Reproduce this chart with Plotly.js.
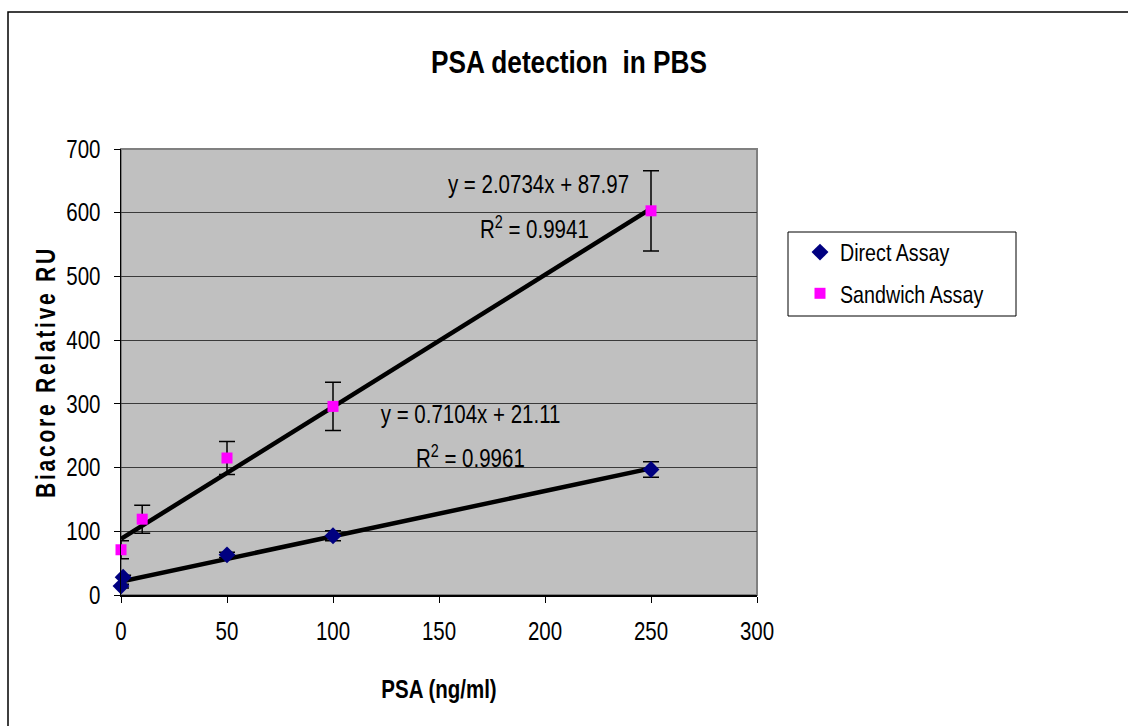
<!DOCTYPE html>
<html>
<head>
<meta charset="utf-8">
<script src="https://cdn.plot.ly/plotly-3.0.1.min.js"></script>
<style>
  html, body { margin: 0; padding: 0; background: #ffffff; }
  #chart { width: 1128px; height: 726px; }
</style>
</head>
<body>
<div id="chart"></div>
<script>
// PSA concentrations (ng/ml) and Biacore responses (RU)
const directX = [0, 1, 50, 100, 250];
const directY = [14, 28, 63, 93, 197];
const directErr = [3, 3, 4, 8, 12];

const sandwichX = [0, 10, 50, 100, 250];
const sandwichY = [71, 119, 215, 296, 603];
const sandwichErr = [14, 22, 26, 38, 63];

// Linear fits: [slope, intercept, R²]
const directFit = [0.7104, 21.11, 0.9961];
const sandwichFit = [2.0734, 87.97, 0.9941];
const fitRange = [0, 250];

const xTicks = [0, 50, 100, 150, 200, 250, 300];
const yTicks = [0, 100, 200, 300, 400, 500, 600, 700];

const SANS = '"Liberation Sans", Arial, sans-serif';
const NARROW_SCALE = 0.82;   // horizontal squeeze for a condensed Arial look

function fitLine(fit) {
  return {
    x: fitRange,
    y: fitRange.map(v => fit[0] * v + fit[1]),
    type: 'scatter', mode: 'lines',
    line: { color: '#000000', width: 4.5 },
    showlegend: false, hoverinfo: 'skip', cliponaxis: false
  };
}

const traces = [
  fitLine(directFit),
  fitLine(sandwichFit),
  {
    x: directX, y: directY, name: 'Direct Assay',
    type: 'scatter', mode: 'markers', legendgroup: 'a', cliponaxis: false,
    marker: { symbol: 'diamond', color: '#000080', size: 13 },
    error_y: { type: 'data', array: directErr, visible: true, color: '#000000', thickness: 1.5, width: 8 }
  },
  {
    x: sandwichX, y: sandwichY, name: 'Sandwich Assay',
    type: 'scatter', mode: 'markers', legendgroup: 'b', cliponaxis: false,
    marker: { symbol: 'square', color: '#FF00FF', size: 11 },
    error_y: { type: 'data', array: sandwichErr, visible: true, color: '#000000', thickness: 1.5, width: 8 }
  }
];

function eqText(fit) {
  return 'y = ' + fit[0].toFixed(4) + 'x + ' + fit[1].toFixed(2);
}
function r2Text(fit) {
  return 'R<sup>2</sup> = ' + fit[2].toFixed(4);
}

const textFont = { family: SANS, size: 25, color: '#000000' };

const layout = {
  width: 1128, height: 726,
  margin: { l: 121, r: 371, t: 149, b: 131, pad: 0 },
  paper_bgcolor: '#ffffff',
  plot_bgcolor: '#C0C0C0',
  title: {
    text: '<b>PSA detection  in PBS</b>',
    font: { family: SANS, size: 32, color: '#000000' },
    xref: 'paper', x: (569 - 121) / 636, xanchor: 'center',
    yref: 'container', y: 1 - 62 / 726, yanchor: 'middle'
  },
  xaxis: {
    range: [0, 300], tickvals: xTicks, ticktext: xTicks.map(String),
    showgrid: false, zeroline: false,
    showline: true, linecolor: '#000000', linewidth: 1.5,
    ticks: 'outside', ticklen: 6, tickcolor: '#000000', tickwidth: 1,
    ticklabelstandoff: 8,
    tickfont: { family: SANS, size: 25, color: '#000000' },
    title: { text: '<b>PSA (ng/ml)</b>', font: { family: SANS, size: 25, color: '#000000' }, standoff: 36 }
  },
  yaxis: {
    range: [0, 700], tickvals: yTicks, ticktext: yTicks.map(String),
    showgrid: true, gridcolor: '#3a3a3a', gridwidth: 1,
    zeroline: false,
    showline: true, linecolor: '#000000', linewidth: 1.5,
    ticks: 'outside', ticklen: 6, tickcolor: '#000000', tickwidth: 1,
    ticklabelstandoff: 8,
    tickfont: { family: SANS, size: 25, color: '#000000' },
    title: { text: '<b>Biacore Relative RU</b>', font: { family: SANS, size: 27, color: '#000000' }, standoff: 8 }
  },
  legend: {
    x: (800 - 121) / 636, xanchor: 'left',
    y: (595 - 230) / 446, yanchor: 'top',
    bgcolor: 'rgba(0,0,0,0)', borderwidth: 0,
    font: { family: SANS, size: 24, color: '#000000' },
    tracegroupgap: 7, itemwidth: 30
  },
  shapes: [
    // outer chart frame
    { type: 'rect', xref: 'paper', yref: 'paper',
      x0: (8 - 121) / 636, x1: 1.7, y0: -0.5, y1: (595 - 12) / 446,
      line: { color: '#000000', width: 1.5 }, fillcolor: 'rgba(0,0,0,0)', layer: 'below' },
    // plot area frame (top and right edges)
    { type: 'rect', xref: 'paper', yref: 'paper', x0: 0, x1: 1, y0: 0, y1: 1,
      line: { color: '#808080', width: 2 }, fillcolor: 'rgba(0,0,0,0)', layer: 'below' },
    // legend frame
    { type: 'rect', xref: 'paper', yref: 'paper',
      x0: (788 - 121) / 636, x1: (1016 - 121) / 636,
      y0: (595 - 316) / 446, y1: (595 - 232) / 446,
      line: { color: '#000000', width: 1 }, fillcolor: 'rgba(0,0,0,0)' }
  ],
  annotations: [
    { x: 197, y: 645, xref: 'x', yref: 'y', text: eqText(sandwichFit), showarrow: false, font: textFont },
    { x: 195, y: 576, xref: 'x', yref: 'y', text: r2Text(sandwichFit), showarrow: false, font: textFont },
    { x: 165, y: 284, xref: 'x', yref: 'y', text: eqText(directFit), showarrow: false, font: textFont },
    { x: 165, y: 217, xref: 'x', yref: 'y', text: r2Text(directFit), showarrow: false, font: textFont }
  ]
};

// Squeeze a text element horizontally about its anchor point
function squeeze(el, s, pre) {
  const x = parseFloat(el.getAttribute('x')) || 0;
  const t = el.getAttribute('transform') || '';
  el.setAttribute('transform', (pre || '') + ' ' + t +
    ' translate(' + x + ',0) scale(' + s + ',1) translate(' + (-x) + ',0)');
}

Plotly.newPlot('chart', traces, layout, { displayModeBar: false, staticPlot: true }).then(gd => {
  const sel = '.gtitle, .xtitle, .xtick text, .ytick text, .annotation-text, .legendtext';
  gd.querySelectorAll(sel).forEach(el => squeeze(el, NARROW_SCALE));

  // vertical axis title: condensed glyphs, spread out along its length
  const yt = gd.querySelector('.ytitle');
  if (yt) {
    const s = 0.78, target = 252;
    const n = yt.textContent.length;
    const len0 = yt.getComputedTextLength();
    const spacing = Math.max(0, (target / s - len0) / n);
    yt.style.letterSpacing = spacing + 'px';
    squeeze(yt, s, 'translate(13,0)');
  }
});
</script>
</body>
</html>
